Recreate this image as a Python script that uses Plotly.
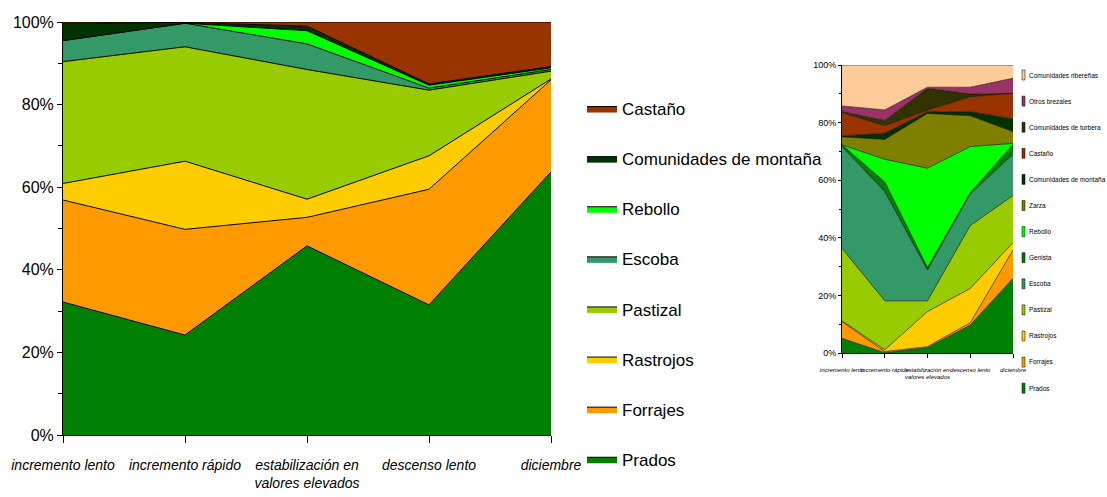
import plotly.graph_objects as go

categories = ["incremento lento", "incremento rápido", "estabilización en<br>valores elevados",
              "descenso lento", "diciembre"]
pct_ticks = [0, 20, 40, 60, 80, 100]
pct_labels = ["0%", "20%", "40%", "60%", "80%", "100%"]

# left chart (% of total, bottom to top)
left_names = ["Prados", "Forrajes", "Rastrojos", "Pastizal", "Escoba", "Rebollo",
              "Comunidades de montaña", "Castaño"]
left_colors = ["#008000", "#FF9900", "#FFCC00", "#99CC00", "#339966", "#00FF00",
               "#003300", "#993300"]
prados = [32.2, 24.2, 45.8, 31.5, 63.7]
forrajes = [24.7, 25.6, 6.9, 28.0, 22.3]
rastrojos = [4.0, 16.5, 4.4, 8.1, 0.2]
pastizal = [29.5, 27.7, 31.4, 15.9, 1.9]
escoba = [5.1, 5.7, 6.2, 0.5, 0.4]
rebollo = [0.0, 0.0, 3.2, 0.7, 0.4]
com_montana = [4.2, 0.2, 1.1, 0.3, 0.3]
castano = [0.3, 0.1, 1.0, 15.0, 10.8]
left_values = [prados, forrajes, rastrojos, pastizal, escoba, rebollo, com_montana, castano]

# right chart (% of total, bottom to top)
right_names = ["Prados", "Forrajes", "Rastrojos", "Pastizal", "Escoba", "Genista", "Rebollo",
               "Zarza", "Comunidades de montaña", "Castaño", "Comunidades de turbera",
               "Otros brezales", "Comunidades ribereñas"]
right_colors = ["#008000", "#FF9900", "#FFCC00", "#99CC00", "#339966", "#008000", "#00FF00",
                "#808000", "#003300", "#993300", "#333300", "#993366", "#FFCC99"]
r_prados = [5.2, 0.2, 2.0, 9.8, 26.0]
r_forrajes = [5.8, 0.4, 0.3, 0.8, 9.8]
r_rastrojos = [0.3, 0.6, 12.2, 11.9, 2.6]
r_pastizal = [25.1, 17.0, 3.7, 21.8, 16.3]
r_escoba = [35.3, 37.9, 10.7, 11.0, 14.3]
r_genista = [0.6, 3.4, 0.9, 0.4, 3.5]
r_rebollo = [0.0, 7.8, 34.4, 16.0, 0.3]
r_zarza = [2.8, 6.9, 19.0, 10.7, 4.1]
r_com_montana = [0.3, 2.1, 0.6, 1.4, 4.4]
r_castano = [8.1, 2.7, 0.6, 5.2, 8.9]
r_com_turbera = [0.3, 1.7, 7.5, 0.9, 0.0]
r_otros = [2.0, 3.7, 0.4, 2.4, 5.2]
r_com_riber = [14.2, 15.6, 7.7, 7.7, 4.6]
right_values = [r_prados, r_forrajes, r_rastrojos, r_pastizal, r_escoba, r_genista, r_rebollo,
                r_zarza, r_com_montana, r_castano, r_com_turbera, r_otros, r_com_riber]

FONT = "Liberation Sans, Arial"

fig = go.Figure()
xs = list(range(len(categories)))

n = len(left_names)
for i, (name, color, vals) in enumerate(zip(left_names, left_colors, left_values)):
    fig.add_trace(go.Scatter(
        x=xs, y=vals, name=name, mode="lines", stackgroup="a", groupnorm="percent",
        fillcolor=color, line=dict(color="black", width=1),
        legendgroup="L" + name, legendrank=n - i))

for name, color, vals in zip(right_names, right_colors, right_values):
    fig.add_trace(go.Scatter(
        x=xs, y=vals, name=name, mode="lines", stackgroup="b", groupnorm="percent",
        fillcolor=color, line=dict(color="black", width=0.6),
        showlegend=False, xaxis="x2", yaxis="y2"))

# small legend of the right chart: thin colour bars + names, top to bottom
m = len(right_names)
for i, (name, color) in enumerate(zip(right_names, right_colors)):
    yc = 75 + (m - 1 - i) * 26.1
    fig.add_shape(type="rect", xref="paper", yref="paper",
                  x0=1022 / 1107, x1=1025 / 1107,
                  y0=1 - (yc + 5) / 497, y1=1 - (yc - 5) / 497,
                  fillcolor=color, line=dict(color="black", width=0.5))
    fig.add_annotation(text=name, xref="paper", yref="paper", x=1027 / 1107, y=1 - yc / 497,
                       xanchor="left", yanchor="middle", showarrow=False,
                       font=dict(size=6.5, family=FONT, color="black"))

fig.update_layout(
    width=1107, height=497,
    margin=dict(l=0, r=0, t=0, b=0),
    paper_bgcolor="white", plot_bgcolor="white",
    font=dict(family=FONT, color="black"),
    xaxis=dict(domain=[63 / 1107, 551 / 1107], range=[0, 4], tickmode="array", tickvals=xs,
               ticktext=categories, tickangle=0, automargin=False, showline=True,
               linecolor="black", ticks="outside", ticklen=7, tickcolor="black",
               ticklabelstandoff=10, showgrid=False, zeroline=False,
               tickfont=dict(size=14, style="italic", family=FONT)),
    yaxis=dict(domain=[62 / 497, 475 / 497], range=[0, 100], tickmode="array",
               tickvals=pct_ticks, ticktext=pct_labels, automargin=False, showline=True,
               linecolor="black", ticks="outside", ticklen=5, tickcolor="black",
               showgrid=False, zeroline=False, tickfont=dict(size=16, family=FONT),
               minor=dict(dtick=10, ticks="outside", ticklen=4, tickcolor="black")),
    xaxis2=dict(domain=[842 / 1107, 1013 / 1107], range=[0, 4], tickmode="array", tickvals=xs,
                ticktext=categories, tickangle=0, automargin=False, showline=True,
                linecolor="black", ticks="outside", ticklen=4, tickcolor="black",
                ticklabelstandoff=6, showgrid=False, zeroline=False, anchor="y2",
                tickfont=dict(size=6, style="italic", family=FONT)),
    yaxis2=dict(domain=[143.7 / 497, 432 / 497], range=[0, 100], tickmode="array",
                tickvals=pct_ticks, ticktext=pct_labels, automargin=False, showline=True,
                linecolor="black", ticks="outside", ticklen=3, tickcolor="black",
                showgrid=False, zeroline=False, anchor="x2",
                tickfont=dict(size=9, family=FONT),
                minor=dict(dtick=10, ticks="outside", ticklen=2, tickcolor="black")),
    legend=dict(x=582 / 1107, y=1 - 91 / 497, xanchor="left", yanchor="top",
                traceorder="grouped", tracegroupgap=25,
                font=dict(size=17, family=FONT), bgcolor="rgba(0,0,0,0)"),
)

fig.write_html("out.html", config={"displayModeBar": False},
               post_script="document.body.style.margin='0';")
